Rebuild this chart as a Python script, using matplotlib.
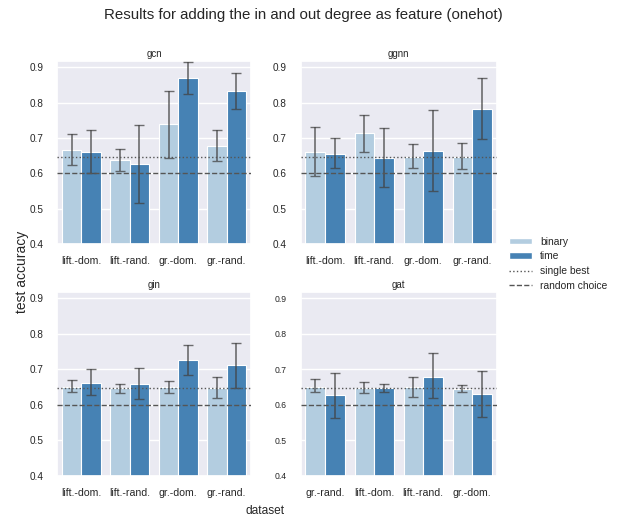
import numpy as np
import matplotlib
matplotlib.use("Agg")
import matplotlib.pyplot as plt
import seaborn as sns
from matplotlib.patches import Patch
from matplotlib.lines import Line2D

sns.set_theme(style="darkgrid")
plt.rcParams['font.family'] = ['Liberation Sans', 'DejaVu Sans']

models = ["gcn", "ggnn", "gin", "gat"]
datasets = {
    "gcn": ["lift.-dom.", "lift.-rand.", "gr.-dom.", "gr.-rand."],
    "ggnn": ["lift.-dom.", "lift.-rand.", "gr.-dom.", "gr.-rand."],
    "gin": ["lift.-dom.", "lift.-rand.", "gr.-dom.", "gr.-rand."],
    "gat": ["gr.-rand.", "lift.-dom.", "lift.-rand.", "gr.-dom."],
}
features = ["binary", "time"]

# mean test accuracy per dataset
binary_mean = {
    "gcn": [0.667, 0.638, 0.739, 0.676],
    "ggnn": [0.660, 0.713, 0.646, 0.647],
    "gin": [0.651, 0.646, 0.650, 0.646],
    "gat": [0.649, 0.648, 0.649, 0.644],
}
time_mean = {
    "gcn": [0.661, 0.626, 0.869, 0.832],
    "ggnn": [0.654, 0.644, 0.664, 0.783],
    "gin": [0.662, 0.659, 0.726, 0.711],
    "gat": [0.626, 0.646, 0.679, 0.629],
}
# confidence interval bounds (low, high)
binary_lo = {
    "gcn": [0.622, 0.607, 0.644, 0.634],
    "ggnn": [0.591, 0.661, 0.615, 0.611],
    "gin": [0.637, 0.633, 0.634, 0.618],
    "gat": [0.635, 0.634, 0.623, 0.635],
}
binary_hi = {
    "gcn": [0.710, 0.669, 0.833, 0.723],
    "ggnn": [0.731, 0.765, 0.683, 0.685],
    "gin": [0.670, 0.659, 0.666, 0.677],
    "gat": [0.671, 0.665, 0.679, 0.655],
}
time_lo = {
    "gcn": [0.601, 0.515, 0.824, 0.783],
    "ggnn": [0.615, 0.560, 0.550, 0.697],
    "gin": [0.626, 0.617, 0.685, 0.648],
    "gat": [0.562, 0.635, 0.619, 0.566],
}
time_hi = {
    "gcn": [0.723, 0.737, 0.915, 0.883],
    "ggnn": [0.700, 0.729, 0.780, 0.869],
    "gin": [0.700, 0.703, 0.768, 0.774],
    "gat": [0.690, 0.658, 0.745, 0.696],
}

single_best = 0.647
random_choice = 0.6

colors = ["#b3cde0", "#4682b4"]
err_color = "#424242"

fig = plt.figure(figsize=(6.21, 5.2), dpi=100)
positions = {
    "gcn": [0.092, 0.531, 0.312, 0.352],
    "ggnn": [0.484, 0.531, 0.316, 0.352],
    "gin": [0.092, 0.085, 0.312, 0.354],
    "gat": [0.484, 0.085, 0.316, 0.354],
}

width = 0.4
for m in models:
    ax = fig.add_axes(positions[m])
    x = np.arange(len(datasets[m]))
    for i, (mean, lo, hi) in enumerate([(binary_mean, binary_lo, binary_hi),
                                         (time_mean, time_lo, time_hi)]):
        xs = x - 0.2 + i * width
        vals = np.array(mean[m])
        ax.bar(xs, vals - 0.4, bottom=0.4, width=width, color=colors[i],
               edgecolor="white", linewidth=0.8, zorder=2)
        yerr = np.array([vals - np.array(lo[m]), np.array(hi[m]) - vals])
        ax.errorbar(xs, vals, yerr=yerr, fmt="none", ecolor=err_color,
                    elinewidth=1.2, capsize=3.6, capthick=1.0, alpha=0.75, zorder=3)
    ax.axhline(single_best, color="#555555", linestyle=":", linewidth=1, zorder=4)
    ax.axhline(random_choice, color="#555555", linestyle="--", linewidth=1, zorder=4)
    ax.set_xlim(-0.5, len(x) - 0.5)
    ax.set_ylim(0.4, 0.918)
    ax.set_yticks([0.4, 0.5, 0.6, 0.7, 0.8, 0.9])
    ax.set_xticks(x)
    ax.set_xticklabels(datasets[m], fontsize=7.6)
    ax.tick_params(axis="y", labelsize=6.2 if m == "gat" else 7.2, pad=4)
    ax.tick_params(axis="x", pad=3)
    ax.grid(axis="x", visible=False)
    ax.set_title(m, fontsize=7, pad=3)

fig.suptitle("Results for adding the in and out degree as feature (onehot)",
             fontsize=10.8, x=0.488, y=0.985)
fig.text(0.035, 0.478, "test accuracy", rotation=90, va="center", ha="center", fontsize=10)
fig.text(0.427, 0.017, "dataset", ha="center", va="center", fontsize=8.6)

handles = [Patch(facecolor=colors[0], label="binary"),
           Patch(facecolor=colors[1], label="time"),
           Line2D([0], [0], color="#555555", linestyle=":", lw=1, label="single best"),
           Line2D([0], [0], color="#555555", linestyle="--", lw=1, label="random choice")]
fig.legend(handles=handles, loc="center left", bbox_to_anchor=(0.805, 0.493),
           frameon=False, fontsize=7.4, handlelength=2.2, handleheight=0.6,
           labelspacing=0.45)

fig.savefig("out.png", dpi=100)
